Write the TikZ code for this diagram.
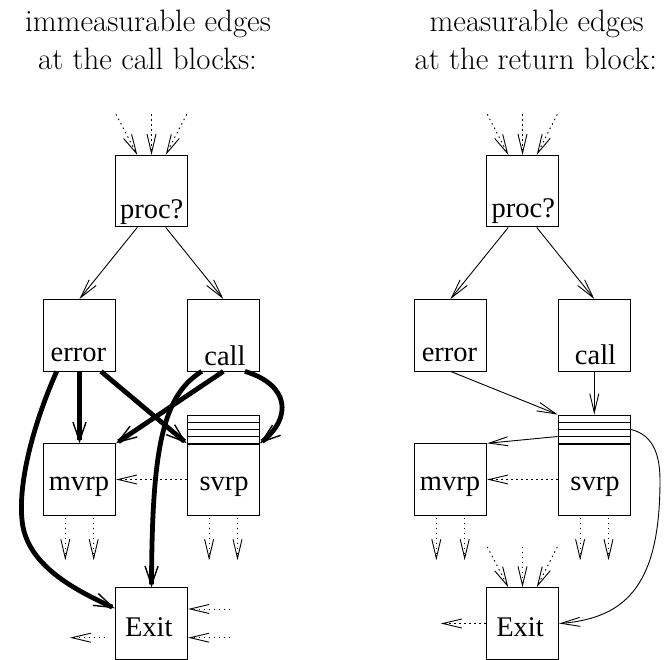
\documentclass[tikz,border=0pt]{standalone}
\usepackage{fontspec}
\newfontfamily\labfont{Liberation Serif}
\usetikzlibrary{arrows.meta,calc}
\begin{document}
\begin{tikzpicture}[x=1pt,y=-1pt,
  box/.style={draw,line width=0.9pt,minimum width=72.4pt,minimum height=71.5pt,inner sep=0pt},
  stackbox/.style={draw,line width=0.9pt,minimum width=72.4pt,minimum height=29pt,inner sep=0pt},
  lab/.style={font={\labfont\fontsize{28.5}{34}\selectfont},anchor=base,inner sep=0pt},
  ttl/.style={font={\fontsize{30.9}{38}\selectfont},anchor=base,inner sep=0pt},
  thinarrow/.style={line width=0.9pt,-{Straight Barb[length=19pt,width=9pt]}},
  dotarrow/.style={thinarrow,dash pattern=on 1.5pt off 3.5pt},
  thickarrow/.style={line width=4.8pt,-{Straight Barb[length=19pt,width=13pt,line width=1.4pt]}},
]
\useasboundingbox (0,0) rectangle (671,660);

% titles
\node[ttl] (lt1) at (148,31.7) {immeasurable edges};
\node[ttl] (lt2) at (147.5,70) {at the call blocks:};
\node[ttl] (rt1) at (536.7,31.7) {measurable edges};
\node[ttl] (rt2) at (535.8,70) {at the return block:};

% ---------- left diagram ----------
\node[box] (lproc) at (151.5,191.2) {};
\node[box] (lerr) at (79.5,335.2) {};
\node[box] (lcall) at (223.3,335.2) {};
\node[box] (lmvrp) at (79.5,479.5) {};
\node[box] (lsvrp) at (223.3,479.5) {};
\node[stackbox] (lstack) at (223.3,429.5) {};
\node[box] (lexit) at (151.5,623.5) {};
\foreach \d in {-7.25,0,7.25}
  \draw[line width=0.9pt] ($(lstack.west)+(0,\d)$) -- ($(lstack.east)+(0,\d)$);

\node[lab] (lproc-t) at (151.7,218.3) {proc?};
\node[lab] (lerr-t) at (78.3,361.7) {error};
\node[lab] (lcall-t) at (225,365) {call};
\node[lab] (lmvrp-t) at (79,490) {mvrp};
\node[lab] (lsvrp-t) at (224.2,490) {svrp};
\node[lab] (lexit-t) at (148.8,636) {Exit};

\foreach \dx/\ex in {-35.5/-14.2,0/0,35.2/14.2}
  \draw[dotarrow] ($(lproc.north)+(\dx,-40.7)$) -- ($(lproc.north)+(\ex,0)$);
\draw[thinarrow] ($(lproc.south)+(-14.2,0)$) -- (lerr.north);
\draw[thinarrow] ($(lproc.south)+(14.2,0)$) -- (lcall.north);

\draw[thickarrow] ($(lerr.south)+(-22.8,0)$) .. controls (35,420) and (18,480) .. (22,520)
   .. controls (26,565) and (75,590) .. ($(lexit.west)+(0,-15.2)$);
\draw[thickarrow] (lerr.south) -- (lmvrp.north);
\draw[thickarrow] ($(lerr.south)+(21.5,0)$) -- (lsvrp.north west);
\draw[thickarrow] (lcall.south) -- (lmvrp.north east);
\draw[thickarrow] ($(lcall.south)+(-21.6,0)$) .. controls (162,396) and (152,450) .. (lexit.north);
\draw[thickarrow] ($(lcall.south)+(21.7,0)$) .. controls (290,385) and (292,418) .. (lsvrp.north east);

\draw[dotarrow] (lsvrp.west) -- (lmvrp.east);
\foreach \n in {lmvrp,lsvrp}
  \foreach \d in {-14.2,14.2}
    \draw[dotarrow] ($(\n.south)+(\d,2)$) -- ($(\n.south)+(\d,44.5)$);
\draw[dotarrow] ($(lexit.west)+(-9.7,14.2)$) -- ($(lexit.west)+(-45,14.2)$);
\draw[dotarrow] ($(lexit.east)+(42,-14.5)$) -- ($(lexit.east)+(0,-14.5)$);
\draw[dotarrow] ($(lexit.east)+(42,14.2)$) -- ($(lexit.east)+(0,14.2)$);

% ---------- right diagram ----------
\node[box] (rproc) at (522.5,191.2) {};
\node[box] (rerr) at (450.5,335.2) {};
\node[box] (rcall) at (594.3,335.2) {};
\node[box] (rmvrp) at (450.5,479.5) {};
\node[box] (rsvrp) at (594.3,479.5) {};
\node[stackbox] (rstack) at (594.3,429.5) {};
\node[box] (rexit) at (522.5,623.5) {};
\foreach \d in {-7.25,0,7.25}
  \draw[line width=0.9pt] ($(rstack.west)+(0,\d)$) -- ($(rstack.east)+(0,\d)$);

\node[lab] (rproc-t) at (523.3,218) {proc?};
\node[lab] (rerr-t) at (449.5,361.7) {error};
\node[lab] (rcall-t) at (595.5,364) {call};
\node[lab] (rmvrp-t) at (450,490) {mvrp};
\node[lab] (rsvrp-t) at (595,490) {svrp};
\node[lab] (rexit-t) at (520,636) {Exit};

\foreach \dx/\ex in {-35.2/-14.2,0/0,34.8/14.2}
  \draw[dotarrow] ($(rproc.north)+(\dx,-40.7)$) -- ($(rproc.north)+(\ex,0)$);
\draw[thinarrow] ($(rproc.south)+(-14.2,0)$) -- (rerr.north);
\draw[thinarrow] ($(rproc.south)+(14.2,0)$) -- (rcall.north);

\draw[thinarrow] (rerr.south) -- (rstack.north west);
\draw[thinarrow] (rcall.south) -- (rstack.north);
\draw[thinarrow] ($(rstack.west)+(0,7)$) -- (rmvrp.north east);
\draw[thinarrow] (rstack.east) .. controls (650,434) and (660,450) .. (660,480)
   .. controls (660,580) and (630,618) .. (rexit.east);

\draw[dotarrow] (rsvrp.west) -- (rmvrp.east);
\foreach \n in {rmvrp,rsvrp}
  \foreach \d in {-14.2,14.2}
    \draw[dotarrow] ($(\n.south)+(\d,2)$) -- ($(\n.south)+(\d,44.5)$);
\foreach \dx/\ex in {-35.2/-14.2,0/0,34.8/14.2}
  \draw[dotarrow] ($(rexit.north)+(\dx,-40.4)$) -- ($(rexit.north)+(\ex,0)$);
\draw[dotarrow] (rexit.west) -- ($(rexit.west)+(-45,0)$);
\end{tikzpicture}
\end{document}
